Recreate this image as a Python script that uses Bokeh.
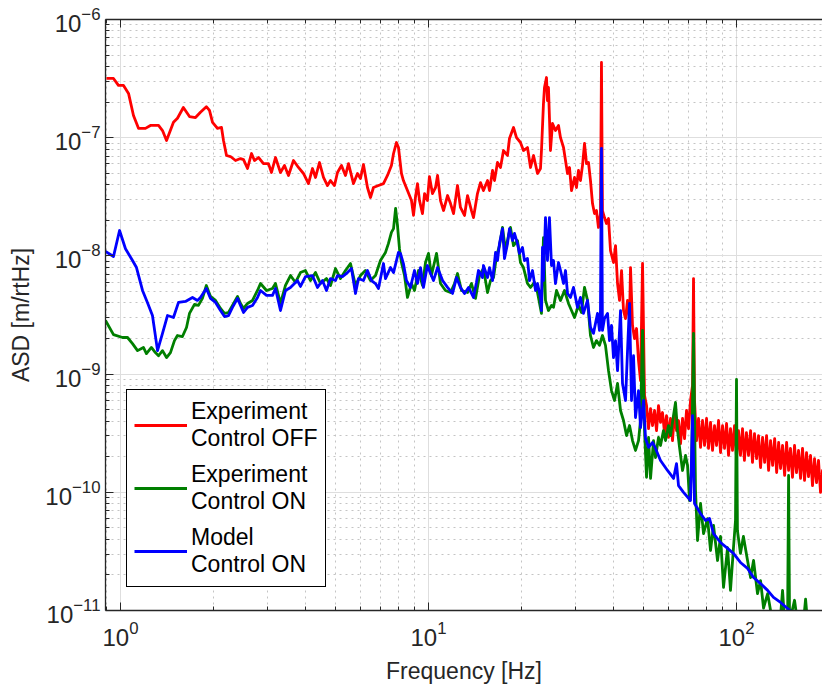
from bokeh.plotting import figure
from bokeh.models import Range1d, FixedTicker, LogAxis, Legend, LegendItem
from bokeh.embed import file_html
from bokeh.resources import INLINE

# ---------------- data ----------------
red_freq = [
    0.90, 0.949, 0.985, 1.023, 1.062, 1.102, 1.144, 1.205, 1.251, 1.329, 1.369, 1.411, 1.486, 1.531, 1.60,
    1.675, 1.752, 1.818, 1.90, 1.945, 1.99, 2.065, 2.128, 2.16, 2.209, 2.276, 2.363, 2.453, 2.509, 2.585,
    2.663, 2.723, 2.806, 2.913, 3.023, 3.092, 3.186, 3.307, 3.408, 3.511, 3.645, 3.783, 3.927, 4.077, 4.20,
    4.297, 4.427, 4.561, 4.699, 4.806, 4.952, 5.064, 5.218, 5.376, 5.498, 5.708, 5.881,
    6.014, 6.15, 6.337, 6.481, 6.628, 6.88, 7.142, 7.359, 7.58, 7.70, 7.87, 7.99, 8.17, 8.29, 8.546, 8.806,
    8.94, 9.07, 9.21, 9.35, 9.56, 9.71, 9.92, 10.07, 10.30, 10.54, 10.70, 10.94, 11.19, 11.53, 11.79, 12.06,
    12.42, 12.70, 13.09, 13.39, 13.79, 14.0, 14.42, 14.75, 15.08, 15.55, 15.78, 16.14, 16.38, 16.75, 17.13,
    17.52, 18.05, 18.32, 18.88, 19.31, 19.89, 20.34, 20.96, 21.44, 21.93, 22.59, 23.10,
    23.27, 23.62, 23.80, 24.16, 24.34, 24.52, 24.70, 24.89, 25.27, 25.84, 26.43, 26.83, 27.44, 27.85, 28.27,
    28.69, 29.13, 29.79, 30.23, 30.69, 31.15, 31.62, 32.10, 32.58, 33.07, 33.57, 34.08, 34.59, 35.10, 35.63,
    36.17, 36.44, 36.71, 37.27, 37.83, 38.41, 38.99, 39.87, 40.48, 41.09, 41.71, 42.34, 42.97, 43.62, 44.28,
    44.94, 45.28, 45.96, 46.66, 47.36, 48.07, 48.80, 49.54, 50.28,
    51.04, 51.81, 52.59, 53.38, 54.19, 55.0, 55.82, 56.66, 57.51, 58.38, 59.26, 60.15, 61.07, 61.98, 62.91,
    63.86, 64.83, 65.81, 66.80, 67.80, 68.82, 69.86, 70.91, 71.98, 72.52, 73.06, 74.16, 75.28, 76.42, 77.57,
    78.74, 79.93, 81.13, 82.35, 83.59, 84.85, 86.13, 87.43, 88.75, 90.08, 91.44, 92.82, 94.22, 95.61, 97.05,
    98.52, 100.0, 101.5, 103.0, 104.6, 106.1, 107.7, 109.4, 111.1, 112.7, 114.4, 116.2, 117.9, 119.7, 121.5,
    123.4, 125.2, 127.1, 129.0, 131.0, 133.0, 135.0, 137.0, 139.0, 141.1, 143.3, 145.4, 147.6, 149.7, 152.0,
    154.3, 156.6, 159.0, 161.4, 163.8, 166.3, 168.8, 171.3, 173.9, 176.5, 179.2, 181.9, 184.6, 187.4, 190.2,
    193.0,
]
red_asd = [
    3.17e-7, 3.17e-7, 2.77e-7, 2.77e-7, 2.37e-7, 1.54e-7, 1.20e-7, 1.20e-7, 1.27e-7, 1.27e-7, 1.15e-7, 9.47e-8,
    1.35e-7, 1.46e-7, 1.80e-7, 1.51e-7, 1.48e-7, 1.64e-7, 1.83e-7, 1.70e-7, 1.35e-7, 1.20e-7, 1.22e-7, 9.47e-8,
    7.07e-8, 6.93e-8, 6.41e-8, 6.66e-8, 6.53e-8, 5.49e-8, 7.35e-8, 6.41e-8, 6.80e-8, 6.04e-8, 6.04e-8, 5.08e-8,
    6.80e-8, 5.08e-8, 5.81e-8, 4.79e-8, 6.41e-8, 5.60e-8, 4.98e-8, 4.09e-8, 5.49e-8, 4.61e-8, 6.17e-8, 4.61e-8,
    3.94e-8, 4.34e-8, 3.94e-8, 5.08e-8, 5.81e-8, 4.79e-8, 6.04e-8, 4.09e-8, 4.98e-8,
    4.51e-8, 5.93e-8, 3.79e-8, 3.12e-8, 3.79e-8, 3.94e-8, 4.09e-8, 4.79e-8, 5.81e-8, 7.35e-8, 9.11e-8, 8.26e-8,
    4.98e-8, 4.34e-8, 3.57e-8, 2.94e-8, 2.20e-8, 3.12e-8, 4.09e-8, 2.94e-8, 2.28e-8, 3.37e-8, 2.94e-8, 4.69e-8,
    3.37e-8, 3.79e-8, 4.79e-8, 2.94e-8, 2.42e-8, 3.24e-8, 2.77e-8, 2.28e-8, 3.94e-8, 2.57e-8, 2.20e-8, 3.24e-8,
    2.42e-8, 2.11e-8, 3.37e-8, 4.17e-8, 3.57e-8, 4.34e-8, 3.57e-8, 5.28e-8, 4.34e-8, 6.17e-8, 5.60e-8, 7.79e-8,
    7.07e-8, 9.84e-8, 1.22e-7, 1.0e-7, 9.11e-8, 7.79e-8, 8.26e-8, 5.60e-8, 7.07e-8, 4.98e-8, 5.49e-8,
    7.79e-8, 1.94e-7, 2.66e-7, 3.23e-7, 2.06e-7, 2.66e-7, 1.48e-7, 7.79e-8, 1.32e-7, 1.15e-7, 1.27e-7, 1.0e-7,
    8.26e-8, 6.41e-8, 4.98e-8, 5.60e-8, 3.57e-8, 4.61e-8, 3.79e-8, 5.28e-8, 4.34e-8, 5.81e-8, 8.93e-8, 6.04e-8,
    6.17e-8, 4.34e-8, 2.77e-8, 2.28e-8, 2.42e-8, 1.74e-8, 2.28e-8, 4.33e-7, 2.42e-8, 2.11e-8, 1.88e-8, 2.07e-8,
    1.11e-8, 8.79e-9, 1.22e-8, 5.84e-9, 4.20e-9, 7.52e-9, 3.45e-9, 2.95e-9, 4.20e-9, 2.84e-9, 7.97e-9, 2.58e-9,
    2.0e-9, 2.43e-9, 1.30e-9, 8.83e-10, 8.62e-9, 6.59e-10,
    5.42e-10, 3.46e-10, 5.11e-10, 3.67e-10, 4.92e-10, 3.33e-10, 5.42e-10, 3.90e-10, 4.73e-10, 3.20e-10,
    4.46e-10, 2.91e-10, 4.21e-10, 2.74e-10, 4.73e-10, 3.33e-10, 4.05e-10, 2.58e-10, 4.21e-10, 2.85e-10,
    4.92e-10, 3.46e-10, 5.98e-10, 8.01e-10, 6.43e-9, 5.98e-10, 2.74e-10, 4.21e-10, 2.40e-10, 4.05e-10,
    2.49e-10, 4.21e-10, 2.35e-10, 3.90e-10, 2.26e-10, 3.67e-10, 2.49e-10, 4.05e-10, 2.17e-10, 3.67e-10,
    2.35e-10, 3.82e-10, 2.05e-10, 3.46e-10, 2.26e-10, 3.67e-10, 1.97e-10, 3.33e-10, 2.05e-10, 3.46e-10,
    1.86e-10, 3.20e-10, 2.05e-10, 3.33e-10, 1.79e-10, 3.14e-10, 1.93e-10, 3.02e-10, 1.62e-10, 2.91e-10,
    1.79e-10, 3.02e-10, 1.53e-10, 2.74e-10, 1.69e-10, 2.85e-10, 1.47e-10, 2.64e-10, 1.59e-10, 2.49e-10,
    1.39e-10, 2.64e-10, 1.53e-10, 2.35e-10, 1.34e-10, 2.49e-10, 1.47e-10, 2.26e-10, 1.31e-10, 2.35e-10,
    1.26e-10, 2.17e-10, 1.36e-10, 2.05e-10, 1.14e-10, 1.93e-10, 1.21e-10, 1.86e-10, 1.0e-10, 1.53e-10,
    9.6e-11,
]

green_freq = [
    0.894, 0.949, 1.015, 1.054, 1.094, 1.136, 1.187, 1.214, 1.260, 1.298, 1.329, 1.369, 1.411, 1.453, 1.497,
    1.531, 1.589, 1.638, 1.675, 1.739, 1.791, 1.845, 1.90, 1.96, 2.035, 2.112, 2.176, 2.242, 2.31, 2.399,
    2.453, 2.509, 2.585, 2.683, 2.785, 2.848, 2.979, 3.115, 3.186, 3.307, 3.433, 3.564, 3.70, 3.84, 3.986,
    4.139, 4.297, 4.46, 4.664, 4.806, 4.989, 5.179, 5.376, 5.581, 5.794, 6.014, 6.24, 6.481, 6.728,
    6.984, 7.25, 7.41, 7.58, 7.70, 7.82, 7.93, 8.05, 8.17, 8.36, 8.546, 8.806, 9.006, 9.28, 9.56, 9.78,
    10.0, 10.22, 10.62, 10.94, 11.35, 11.79, 12.15, 12.42, 12.80, 13.39, 13.79, 14.21, 14.64, 15.08, 15.55,
    15.90, 16.26, 16.63, 17.0, 17.39, 17.78, 18.19, 18.46, 18.88, 19.45, 19.89, 20.34, 20.96, 21.44, 22.09,
    22.59,
    23.27, 23.62, 23.98, 24.52, 25.08, 25.46, 26.04, 26.83, 27.64, 28.48, 29.13, 29.79, 30.69, 31.38, 32.10,
    32.83, 33.57, 34.33, 35.10, 35.90, 36.71, 37.55, 38.41, 39.28, 40.18, 41.09, 42.02, 42.97, 43.95, 44.94,
    45.96, 47.0, 48.07, 48.80, 49.54, 50.28, 51.04, 51.81, 52.59, 53.78, 54.59, 55.82, 56.66, 57.94, 58.82,
    60.15, 61.07, 62.44, 63.38, 64.35, 65.32, 66.80, 68.31, 69.34, 70.38, 71.44, 72.52, 73.61, 74.72, 76.42,
    78.16, 80.53, 82.35, 84.22, 86.78, 88.75, 90.76, 93.52, 95.61, 97.77, 99.25, 100.0, 100.7, 103.0, 105.3,
    108.6, 111.1, 113.6, 117.0, 119.7, 122.4, 126.2, 129.0, 133.9, 139.0, 141.1, 143.3, 146.5, 147.6, 148.7,
    154.3, 157.8, 165.0, 167.6, 170.0, 190.2, 195.0,
]
green_asd = [
    2.84e-9, 2.16e-9, 2.04e-9, 2.04e-9, 1.81e-9, 1.58e-9, 1.68e-9, 1.49e-9, 1.68e-9, 1.52e-9, 1.43e-9, 1.58e-9,
    1.38e-9, 1.52e-9, 1.92e-9, 2.12e-9, 2.08e-9, 2.48e-9, 3.26e-9, 3.89e-9, 3.81e-9, 4.37e-9, 5.62e-9, 4.54e-9,
    4.20e-9, 3.59e-9, 3.26e-9, 3.32e-9, 3.81e-9, 4.54e-9, 3.96e-9, 3.59e-9, 3.96e-9, 4.20e-9, 5.10e-9, 5.84e-9,
    5.10e-9, 5.30e-9, 5.84e-9, 3.96e-9, 5.62e-9, 6.82e-9, 5.96e-9, 7.23e-9, 7.52e-9, 6.19e-9, 7.23e-9, 5.84e-9,
    6.43e-9, 5.62e-9, 7.82e-9, 6.43e-9, 7.52e-9, 8.62e-9, 5.62e-9, 6.82e-9, 7.52e-9, 6.19e-9, 6.82e-9,
    9.14e-9, 1.07e-8, 1.27e-8, 1.58e-8, 1.70e-8, 2.52e-8, 1.81e-8, 1.15e-8, 8.79e-9, 6.82e-9, 4.45e-9, 5.84e-9,
    5.10e-9, 7.52e-9, 5.62e-9, 8.79e-9, 1.05e-8, 6.82e-9, 1.05e-8, 5.84e-9, 5.10e-9, 4.90e-9, 5.84e-9, 7.09e-9,
    5.10e-9, 4.90e-9, 5.84e-9, 4.37e-9, 6.82e-9, 7.82e-9, 4.90e-9, 6.19e-9, 6.56e-9, 1.0e-8, 1.22e-8, 1.74e-8,
    1.11e-8, 1.49e-8, 1.74e-8, 1.22e-8, 1.35e-8, 8.79e-9, 7.97e-9, 5.84e-9, 5.41e-9, 5.96e-9, 4.90e-9,
    3.26e-9, 1.43e-8, 4.20e-9, 3.45e-9, 3.81e-9, 3.67e-9, 5.10e-9, 4.20e-9, 5.10e-9, 3.96e-9, 3.45e-9, 3.01e-9,
    3.81e-9, 3.32e-9, 5.41e-9, 4.20e-9, 2.12e-9, 1.68e-9, 1.92e-9, 1.75e-9, 2.12e-9, 1.75e-9, 1.07e-9, 7.26e-10,
    5.98e-10, 8.33e-10, 4.92e-10, 4.05e-10, 3.02e-10, 3.67e-10, 2.74e-10, 2.26e-10, 2.74e-10, 4.05e-10, 2.34e-9,
    3.33e-10, 1.34e-10, 2.91e-10, 1.31e-10, 2.74e-10, 1.97e-10, 2.91e-10, 2.49e-10, 3.33e-10, 2.74e-10,
    3.67e-10, 3.02e-10, 4.46e-10, 5.75e-10, 3.33e-10, 2.40e-10, 1.53e-10, 2.05e-10, 1.69e-10, 8.52e-11,
    1.53e-10, 2.21e-9, 1.04e-10, 3.91e-11, 8.04e-11, 4.48e-11, 5.99e-11, 3.22e-11, 5.24e-11, 2.65e-11,
    4.23e-11, 1.57e-11, 3.41e-11, 1.48e-11, 3.41e-11, 5.77e-11, 9.0e-10, 4.75e-11, 3.04e-11, 4.23e-11,
    2.65e-11, 1.90e-11, 2.65e-11, 1.39e-11, 1.79e-11, 1.05e-11, 1.39e-11, 1.0e-11, 8e-12, 9e-12,
    1.48e-11, 8e-12, 8e-12, 1.39e-10, 8e-12, 1.22e-11, 8e-12, 8e-12, 1.25e-11, 8e-12, 8e-12, 8e-12,
]

blue_freq = [
    0.894, 0.949, 0.993, 1.038, 1.094, 1.127, 1.179, 1.223, 1.270, 1.319, 1.369, 1.421, 1.486, 1.543, 1.626,
    1.713, 1.778, 1.818, 1.90, 1.96, 2.035, 2.112, 2.176, 2.242, 2.31, 2.399, 2.453, 2.509, 2.585, 2.683,
    2.785, 2.848, 2.979, 3.115, 3.186, 3.307, 3.433, 3.564, 3.755, 3.84, 3.986, 4.20, 4.361, 4.527, 4.664,
    4.806, 4.989, 5.064, 5.257, 5.457, 5.623, 5.794, 5.925, 6.15, 6.337, 6.53, 6.728, 6.88, 7.142, 7.25,
    7.526, 7.70, 7.99,
    8.11, 8.29, 8.48, 8.74, 9.006, 9.21, 9.42, 9.63, 9.92, 10.15, 10.38, 10.70, 11.11, 11.53, 11.97,
    12.33, 12.70, 13.09, 13.49, 14.0, 14.31, 14.53, 14.97, 15.08, 15.55, 15.78, 16.14, 16.51, 16.75, 17.0,
    17.39, 17.65, 18.05, 18.32, 18.74, 19.02, 19.45, 19.74, 20.19, 20.49, 20.96, 21.28, 21.76, 22.26, 22.59,
    23.10,
    23.27, 23.45, 23.62, 23.98, 24.34, 24.70, 25.08, 25.46, 25.84, 26.43, 26.83, 27.44, 27.85, 28.27, 28.91,
    29.57, 30.46, 31.15, 31.85, 32.83, 33.57, 34.33, 35.37, 35.90, 36.17, 36.44, 36.71, 37.27, 38.13, 38.70,
    39.28, 39.87, 40.48, 41.09, 42.02, 42.65, 43.62, 44.28, 44.94, 45.62, 46.31, 47.0, 48.07, 48.80, 49.91,
    50.66, 51.81, 53.38, 54.59, 56.66, 59.70, 62.46, 63.87, 64.83, 67.30, 70.91, 71.98, 73.06, 76.42, 79.34,
    81.74, 84.22, 88.75, 93.52, 97.77, 103.0, 108.6, 113.6, 119.7, 126.2, 131.9, 139.0, 146.5, 152.0,
]
blue_asd = [
    1.09e-8, 9.88e-9, 1.64e-8, 1.15e-8, 9.14e-9, 7.97e-9, 5.10e-9, 4.04e-9, 3.13e-9, 1.58e-9, 2.21e-9, 3.13e-9,
    3.01e-9, 4.04e-9, 4.12e-9, 4.45e-9, 4.20e-9, 4.45e-9, 5.30e-9, 4.37e-9, 4.04e-9, 3.45e-9, 3.07e-9, 3.13e-9,
    3.67e-9, 4.37e-9, 3.81e-9, 3.32e-9, 3.67e-9, 3.81e-9, 4.45e-9, 5.10e-9, 4.63e-9, 4.63e-9, 5.30e-9, 3.45e-9,
    5.10e-9, 5.41e-9, 6.19e-9, 5.51e-9, 6.69e-9, 6.82e-9, 5.41e-9, 6.19e-9, 5.10e-9, 6.43e-9, 6.19e-9, 6.82e-9,
    6.69e-9, 7.23e-9, 7.82e-9, 4.81e-9, 6.43e-9, 6.19e-9, 7.52e-9, 6.19e-9, 5.84e-9, 5.30e-9, 8.62e-9, 6.43e-9,
    7.97e-9, 7.23e-9, 1.07e-8,
    1.05e-8, 8.62e-9, 6.19e-9, 5.41e-9, 7.52e-9, 5.84e-9, 7.97e-9, 5.41e-9, 8.29e-9, 7.09e-9, 6.19e-9, 7.97e-9,
    6.19e-9, 5.41e-9, 4.81e-9, 6.56e-9, 5.41e-9, 4.81e-9, 5.41e-9, 4.45e-9, 5.96e-9, 7.52e-9, 6.56e-9, 8.29e-9,
    6.56e-9, 7.97e-9, 6.19e-9, 1.07e-8, 9.14e-9, 1.27e-8, 1.70e-8, 9.50e-9, 1.27e-8, 1.70e-8, 1.35e-8, 1.55e-8,
    1.27e-8, 1.05e-8, 1.18e-8, 9.14e-9, 9.50e-9, 6.19e-9, 7.52e-9, 5.10e-9, 5.84e-9, 4.45e-9,
    3.45e-9, 1.18e-8, 6.19e-9, 2.11e-8, 9.14e-9, 2.11e-8, 8.29e-9, 9.14e-9, 5.84e-9, 8.79e-9, 7.52e-9, 5.84e-9,
    7.52e-9, 4.81e-9, 4.45e-9, 5.41e-9, 3.67e-9, 4.45e-9, 3.26e-9, 4.20e-9, 2.48e-9, 2.21e-9, 3.26e-9, 2.34e-9,
    3.45e-9, 8.10e-8, 2.34e-9, 2.95e-9, 3.26e-9, 1.92e-9, 2.58e-9, 1.38e-9, 1.92e-9, 1.07e-9, 3.45e-9, 8.33e-10,
    5.98e-10, 1.58e-9, 3.96e-9, 5.98e-10, 1.43e-9, 4.29e-10, 7.26e-10, 3.53e-10, 5.98e-10,
    2.85e-10, 2.40e-10, 2.64e-10, 2.35e-10, 1.86e-10, 1.53e-10, 1.31e-10, 1.75e-10, 1.14e-10, 1.0e-10,
    8.52e-11, 4.46e-10, 8.04e-11, 6.62e-11, 5.77e-11, 6.0e-11, 4.48e-11, 3.76e-11, 3.35e-11, 3.04e-11,
    2.55e-11, 2.27e-11, 1.90e-11, 1.69e-11, 1.48e-11, 1.29e-11, 1.17e-11, 1.04e-11, 9.6e-12,
]

series_labels = ["Experiment\nControl OFF", "Experiment\nControl ON", "Model\nControl ON"]
series_colors = ["#ff0000", "#007f00", "#0000ff"]

x_major_ticks = [1, 10, 100]
x_minor_ticks = [0.9, 2, 3, 4, 5, 6, 7, 8, 9, 20, 30, 40, 50, 60, 70, 80, 90, 200]
y_major_ticks = [1e-11, 1e-10, 1e-9, 1e-8, 1e-7, 1e-6]
y_minor_ticks = [m * d for d in [1e-11, 1e-10, 1e-9, 1e-8, 1e-7] for m in range(2, 10)]

FONT = "Liberation Sans"
AX = "#262626"

p = figure(width=822, height=690, x_axis_type="log", y_axis_type="log",
           x_range=Range1d(0.894, 190.2), y_range=Range1d(1e-11, 1e-6),
           output_backend="svg", toolbar_location=None,
           min_border_left=105, min_border_right=0, min_border_top=19, min_border_bottom=80)
p.background_fill_color = "white"
p.border_fill_color = "white"
p.outline_line_color = None

bottom_axis = p.below[0]
left_axis = p.left[0]

xt = FixedTicker(ticks=x_major_ticks, minor_ticks=x_minor_ticks)
yt = FixedTicker(ticks=y_major_ticks, minor_ticks=y_minor_ticks)
bottom_axis.ticker = xt
left_axis.ticker = yt
p.xgrid.ticker = xt
p.ygrid.ticker = yt

for g in (p.xgrid, p.ygrid):
    g.grid_line_color = "#dedede"
    g.grid_line_width = 1
    g.minor_grid_line_color = "#c4c4c4"
    g.minor_grid_line_dash = "2 4"
    g.minor_grid_line_width = 1

top_axis = LogAxis(ticker=FixedTicker(ticks=x_major_ticks, minor_ticks=x_minor_ticks),
                   major_label_text_font_size="0px", major_label_standoff=0,
                   major_label_text_color=None)
p.add_layout(top_axis, "above")

for ax in (bottom_axis, left_axis, top_axis):
    ax.axis_line_color = AX
    ax.axis_line_width = 1.3
    ax.major_tick_line_color = AX
    ax.minor_tick_line_color = AX
    ax.major_tick_in = 8
    ax.major_tick_out = 0
    ax.minor_tick_in = 4
    ax.minor_tick_out = 0
for ax in (bottom_axis, left_axis):
    ax.major_label_text_font = FONT
    ax.major_label_text_color = AX
    ax.major_label_text_font_size = "24px"
    ax.axis_label_text_font = FONT
    ax.axis_label_text_font_size = "23px"
    ax.axis_label_text_font_style = "normal"
    ax.axis_label_text_color = AX

bottom_axis.axis_label = "Frequency [Hz]"
left_axis.axis_label = "ASD [m/rtHz]"
bottom_axis.major_label_standoff = 10
bottom_axis.axis_label_standoff = 9
left_axis.major_label_standoff = 5
left_axis.axis_label_standoff = 8

r_red = p.line(red_freq, red_asd, line_color=series_colors[0], line_width=2.8, line_join="round")
r_green = p.line(green_freq, green_asd, line_color=series_colors[1], line_width=2.8, line_join="round")
r_blue = p.line(blue_freq, blue_asd, line_color=series_colors[2], line_width=2.8, line_join="round")

legend = Legend(items=[LegendItem(label=series_labels[0], renderers=[r_red]),
                       LegendItem(label=series_labels[1], renderers=[r_green]),
                       LegendItem(label=series_labels[2], renderers=[r_blue])],
                location=(21, 23))
legend.label_text_font = FONT
legend.label_text_font_size = "23px"
legend.label_text_color = "black"
legend.border_line_color = "black"
legend.border_line_alpha = 1
legend.border_line_width = 1
legend.background_fill_color = "white"
legend.background_fill_alpha = 1
legend.padding = 7
legend.spacing = 7
legend.margin = 0
legend.glyph_width = 53
legend.glyph_height = 56
legend.label_standoff = 4
p.add_layout(legend)

open("out.html", "w").write(file_html(p, INLINE))
